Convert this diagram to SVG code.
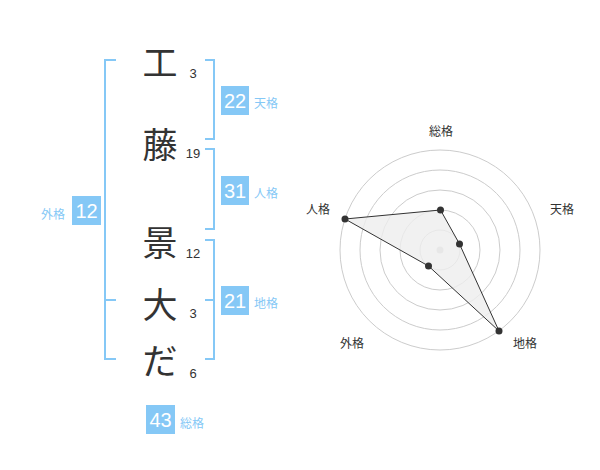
<svg xmlns="http://www.w3.org/2000/svg" width="600" height="470" viewBox="0 0 600 470">
<style>
.ch{font-family:"Noto Sans CJK JP","Noto Sans CJK SC",sans-serif;font-size:35px;fill:#333;text-anchor:middle;dominant-baseline:central}
.st{font-family:"Liberation Sans",Arial,sans-serif;font-size:13px;fill:#333;text-anchor:middle;dominant-baseline:central}
.br{fill:none;stroke:#85c8f6;stroke-width:2}
.box{fill:#85c8f6}
.bn{font-family:"Liberation Sans",Arial,sans-serif;font-size:20px;fill:#fff;text-anchor:middle;dominant-baseline:central}
.bl{font-family:"Noto Sans CJK JP","Noto Sans CJK SC",sans-serif;font-size:12px;fill:#85c8f6;dominant-baseline:central}
.ring{fill:none;stroke:#ccc;stroke-width:1}
.rl{font-family:"Noto Sans CJK JP","Noto Sans CJK SC",sans-serif;font-size:12px;fill:#333;text-anchor:middle;dominant-baseline:central}
.dot{fill:#333}
</style>
<g id="chars">
<text class="ch" x="160" y="60">工</text>
<text class="ch" x="160" y="142">藤</text>
<text class="ch" x="160" y="240">景</text>
<text class="ch" x="160" y="302">大</text>
<text class="ch" x="160" y="358">だ</text>
<text class="st" x="193" y="73">3</text>
<text class="st" x="193" y="153">19</text>
<text class="st" x="193" y="253">12</text>
<text class="st" x="193" y="313">3</text>
<text class="st" x="193" y="373">6</text>
</g>
<g id="brackets">
<path class="br" d="M116,60 H105 V359 H116 M105,300 H116"/>
<path class="br" d="M205,60 H214 V139 H205"/>
<path class="br" d="M205,149 H214 V229 H205"/>
<path class="br" d="M205,240 H214 V359 H205 M214,300 H205"/>
</g>
<g id="tenkaku">
<rect class="box" x="221" y="86" width="28" height="29"/>
<text class="bn" x="235" y="101">22</text>
<text class="bl" x="254" y="102">天格</text>
</g>
<g id="jinkaku">
<rect class="box" x="221" y="176" width="28" height="29"/>
<text class="bn" x="235" y="191">31</text>
<text class="bl" x="254" y="192">人格</text>
</g>
<g id="chikaku">
<rect class="box" x="221" y="286" width="28" height="29"/>
<text class="bn" x="235" y="301">21</text>
<text class="bl" x="254" y="302">地格</text>
</g>
<g id="gaikaku">
<rect class="box" x="72" y="196" width="29" height="29"/>
<text class="bn" x="86.5" y="211">12</text>
<text class="bl" x="41" y="213">外格</text>
</g>
<g id="soukaku">
<rect class="box" x="146" y="405" width="29" height="29"/>
<text class="bn" x="160.5" y="420">43</text>
<text class="bl" x="180" y="422">総格</text>
</g>
<g id="radar">
<circle class="ring" cx="440" cy="250" r="20"/>
<circle class="ring" cx="440" cy="250" r="40"/>
<circle class="ring" cx="440" cy="250" r="60"/>
<circle class="ring" cx="440" cy="250" r="80"/>
<circle class="ring" cx="440" cy="250" r="100"/>
<circle cx="440" cy="250" r="3.5" fill="#ccc"/>
<polygon points="440.5,210 459.5,244 499,331 428.5,266 345,219" fill="#eee" fill-opacity="0.8" stroke="#333" stroke-width="1"/>
<circle class="dot" cx="440.5" cy="210" r="3.5"/>
<circle class="dot" cx="459.5" cy="244" r="3.5"/>
<circle class="dot" cx="499" cy="331" r="3.5"/>
<circle class="dot" cx="428.5" cy="266" r="3.5"/>
<circle class="dot" cx="345" cy="219" r="3.5"/>
<text class="rl" x="441" y="130">総格</text>
<text class="rl" x="562" y="208">天格</text>
<text class="rl" x="525" y="342">地格</text>
<text class="rl" x="352" y="342">外格</text>
<text class="rl" x="318" y="208">人格</text>
</g>
</svg>
